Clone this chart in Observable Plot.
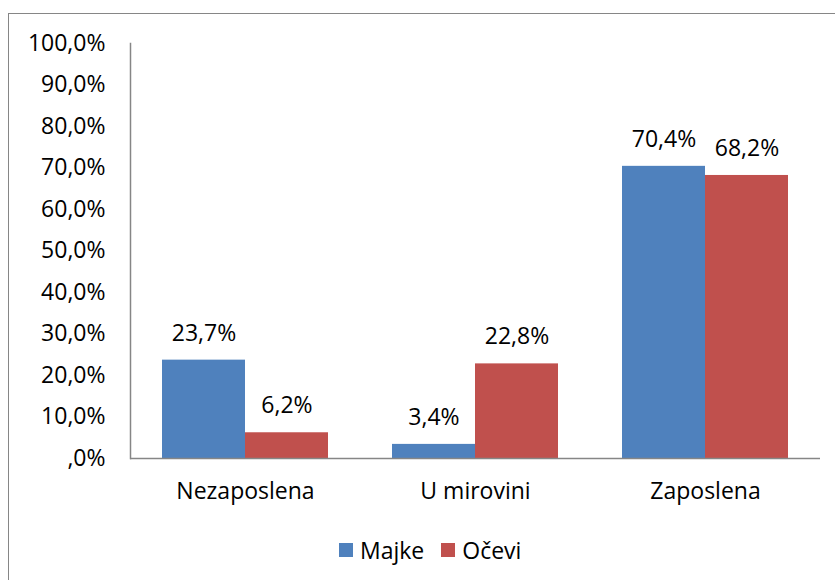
<!DOCTYPE html>
<html>
<head>
<meta charset="utf-8">
<script src="https://cdn.jsdelivr.net/npm/d3@7"></script>
<script src="https://cdn.jsdelivr.net/npm/@observablehq/plot@0.6"></script>
<style>
  html, body { margin: 0; padding: 0; background: #fff; }
  #wrap { position: relative; width: 835px; height: 580px; overflow: hidden; font-family: "Open Sans", sans-serif; }
  #border { position: absolute; left: 8px; top: 13px; width: 900px; height: 700px; border-left: 1.5px solid #868686; border-top: 1.5px solid #868686; }
  #chart { position: absolute; left: 0; top: 0; }
  #legend { position: absolute; left: 339px; top: 534px; display: flex; align-items: center; font-size: 23px; color: #000; }
  .sw { width: 14px; height: 14px; display: inline-block; margin-right: 7px; }
  .item { display: flex; align-items: center; margin-right: 17px; }
</style>
</head>
<body>
<div id="wrap">
  <div id="border"></div>
  <div id="chart"></div>
  <div id="legend"></div>
</div>
<script>
const categories = ["Nezaposlena", "U mirovini", "Zaposlena"];
const series = ["Majke", "Očevi"];
const majke = [23.7, 3.4, 70.4];
const ocevi = [6.2, 22.8, 68.2];
const yTicks = [0, 10, 20, 30, 40, 50, 60, 70, 80, 90, 100];
const colors = ["#4F81BD", "#C0504D"];

const data = categories.flatMap((c, i) => [
  {cat: c, s: series[0], v: majke[i]},
  {cat: c, s: series[1], v: ocevi[i]}
]);

const fmt = d => d === 0 ? ",0%" : d.toFixed(1).replace(".", ",") + "%";

const plot = Plot.plot({
  width: 835,
  height: 580,
  marginLeft: 130,
  marginRight: 15,
  marginTop: 43,
  marginBottom: 122,
  style: {fontFamily: "Open Sans, sans-serif", fontSize: "23px", color: "#000", background: "transparent"},
  fx: {domain: categories, padding: 0, label: null},
  x: {domain: series, paddingInner: 0, paddingOuter: 0.377, axis: null},
  y: {domain: [0, 100], label: null},
  color: {domain: series, range: colors},
  marks: [
    Plot.barY(data, {fx: "cat", x: "s", y: "v", fill: "s"}),
    Plot.text(data, {fx: "cat", x: "s", y: "v", text: d => d.v.toFixed(1).replace(".", ",") + "%", dy: -27, fontSize: 23, fill: "#000"}),
    Plot.ruleY([0], {stroke: "#868686", strokeWidth: 1.5}),
    Plot.frame({anchor: "left", facet: "super", stroke: "#868686", strokeWidth: 1.5}),
    Plot.axisY({ticks: yTicks, tickFormat: fmt, tickSize: 0, tickPadding: 25, fontSize: 23, label: null}),
    Plot.axisFx({anchor: "bottom", tickSize: 0, tickPadding: 24, fontSize: 23, label: null})
  ]
});
document.getElementById("chart").appendChild(plot);

const legend = document.getElementById("legend");
series.forEach((s, i) => {
  const item = document.createElement("div");
  item.className = "item";
  const sw = document.createElement("span");
  sw.className = "sw";
  sw.style.background = colors[i];
  item.appendChild(sw);
  item.appendChild(document.createTextNode(s));
  legend.appendChild(item);
});
</script>
</body>
</html>
